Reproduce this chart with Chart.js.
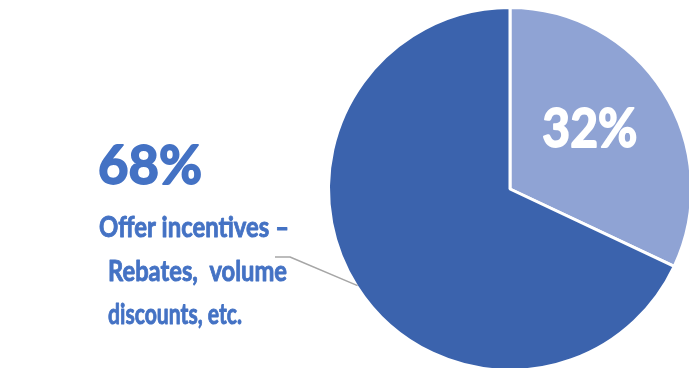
<!DOCTYPE html>
<html>
<head>
<meta charset="utf-8">
<script src="https://cdn.jsdelivr.net/npm/chart.js@4/dist/chart.umd.min.js"></script>
<style>
  html, body { margin: 0; padding: 0; background: #fff; }
  #wrap { position: relative; width: 689px; height: 368px; overflow: hidden; }
  #c { position: absolute; left: 0; top: 0; }
</style>
</head>
<body>
<div id="wrap"><canvas id="c" width="720" height="400"></canvas></div>
<script>
const categories = ["Other", "Offer incentives – Rebates,  volume discounts, etc."];
const values = [32, 68];
const sliceColors = ["#8FA3D4", "#3B63AD"];
const labelLines = ["Offer incentives –", "Rebates,  volume", "discounts, etc."];

const FONT = "Lato, 'Open Sans', 'Liberation Sans', sans-serif";

function boldText(ctx, t, x, y, w, lw) {
  ctx.lineWidth = lw;
  ctx.lineJoin = 'round';
  ctx.strokeStyle = ctx.fillStyle;
  ctx.strokeText(t, x, y, w);
  ctx.fillText(t, x, y, w);
}

const labelPlugin = {
  id: 'labels',
  afterDatasetsDraw(chart) {
    const ctx = chart.ctx;
    const meta = chart.getDatasetMeta(0);
    const total = values.reduce((a, b) => a + b, 0);
    ctx.save();
    // inside label for small slice
    const a0 = meta.data[0];
    const mid0 = (a0.startAngle + a0.endAngle) / 2;
    const r0 = a0.outerRadius * 0.56;
    ctx.fillStyle = '#FFFFFF';
    ctx.font = "bold 54px " + FONT;
    ctx.textAlign = 'center';
    ctx.textBaseline = 'alphabetic';
    boldText(ctx, Math.round(values[0] / total * 100) + '%', a0.x + r0 * Math.cos(mid0) - 6, a0.y + r0 * Math.sin(mid0) + 12, 95, 1.8);

    // outside label for large slice
    const a1 = meta.data[1];
    ctx.fillStyle = '#4472C4';
    ctx.font = "bold 54px " + FONT;
    ctx.textAlign = 'center';
    boldText(ctx, Math.round(values[1] / total * 100) + '%', 150, 184, 104, 1.8);
    ctx.font = "bold 29px " + FONT;
    ctx.textAlign = 'left';
    const xs = [99, 108, 108];
    const ys = [237, 281, 324];
    const ws = [190, 179, 134];
    labelLines.forEach((t, i) => boldText(ctx, t, xs[i], ys[i], ws[i], 0.9));

    // leader line
    const ang = Math.atan2(97, -153);
    const ex = a1.x + (a1.outerRadius - 1) * Math.cos(ang);
    const ey = a1.y + (a1.outerRadius - 1) * Math.sin(ang);
    ctx.strokeStyle = '#A6A6A6';
    ctx.lineWidth = 1.5;
    ctx.beginPath();
    ctx.moveTo(275, 257);
    ctx.lineTo(290, 257);
    ctx.lineTo(ex, ey);
    ctx.stroke();
    ctx.restore();
  }
};

new Chart(document.getElementById('c'), {
  type: 'pie',
  data: {
    labels: categories,
    datasets: [{
      data: values,
      backgroundColor: sliceColors,
      borderColor: '#FFFFFF',
      borderWidth: 3
    }]
  },
  options: {
    responsive: false,
    animation: false,
    layout: { padding: { left: 327, top: 6, right: 27, bottom: 28 } },
    plugins: { legend: { display: false }, tooltip: { enabled: false } }
  },
  plugins: [labelPlugin]
});
</script>
</body>
</html>
